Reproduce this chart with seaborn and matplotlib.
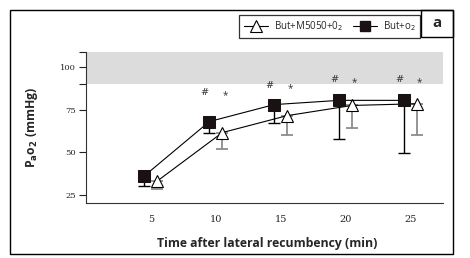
import numpy as np
import pandas as pd
import matplotlib
matplotlib.use('Agg')
import matplotlib.pyplot as plt
from matplotlib.patches import Rectangle
from matplotlib.lines import Line2D
import seaborn as sns

# time points (min) and PaO2 means / SD
times = [5, 10, 15, 20, 25]
but_o2_mean = [36, 68, 78, 80.5, 80.5]
but_o2_sd = [6, 7, 11, 23, 31]
but_m5050_mean = [33, 61.5, 71.5, 77.5, 78.5]
but_m5050_sd = [5, 9.5, 11.5, 13.5, 18.5]
sig_height = [85, 89.5, 93, 93]
sig_times = [10, 15, 20, 25]

sns.set_theme(style='white')
plt.rcParams['font.family'] = ['Open Sans', 'DejaVu Sans']

fig = plt.figure(figsize=(4.7, 2.58), dpi=100)
ax = fig.add_axes([86 / 470, 1 - 203 / 258, 357 / 470, 151 / 258])

df_sq = pd.DataFrame({'pos': np.array(times) - 0.5, 'pao2': but_o2_mean})
df_tri = pd.DataFrame({'pos': np.array(times) + 0.5, 'pao2': but_m5050_mean})

ax.axhspan(90, 109, color='#dcdcdc', lw=0, zorder=0)

# one-sided (downward) error bars
ax.errorbar(df_sq['pos'], df_sq['pao2'], yerr=[but_o2_sd, np.zeros(5)],
            fmt='none', ecolor='black', elinewidth=1, capsize=4.2, capthick=1, zorder=2)
ax.errorbar(df_tri['pos'], df_tri['pao2'], yerr=[but_m5050_sd, np.zeros(5)],
            fmt='none', ecolor='#8c8c8c', elinewidth=1.3, capsize=4.2, capthick=1.3, zorder=2)

sns.lineplot(data=df_tri, x='pos', y='pao2', ax=ax, color='black', lw=0.8,
             marker='^', markersize=9, markerfacecolor='white',
             markeredgecolor='black', markeredgewidth=0.8, zorder=3)
sns.lineplot(data=df_sq, x='pos', y='pao2', ax=ax, color='black', lw=0.8,
             marker='s', markersize=8.5, markerfacecolor='#1a1212',
             markeredgecolor='#1a1212', zorder=4)

for t, h in zip(sig_times, sig_height):
    ax.text(t - 0.9, h, '#', fontsize=7, color='#333333', ha='center', va='center',
            family='DejaVu Serif')
    ax.text(t + 0.7, h - 1.8, '*', fontsize=7, color='#333333', ha='center', va='center')

ax.set_xlim(0, 27.5)
ax.set_ylim(20, 109)
ax.set_xticks(times)
ax.set_xticklabels([str(t) for t in times], fontsize=7, family='DejaVu Serif')
ax.set_yticks([25, 50, 75, 90, 100, 109])
ax.set_yticklabels(['25', '50', '75', '', '100', ''], fontsize=6, family='DejaVu Serif')
ax.tick_params(axis='x', length=0, pad=9, colors='#222222')
ax.tick_params(axis='y', length=5, width=0.8, pad=2, colors='#222222', left=True)
ax.set_xlabel('')
ax.set_ylabel('')
for s in ['top', 'right']:
    ax.spines[s].set_visible(False)
for s in ['left', 'bottom']:
    ax.spines[s].set_color('#333333')
    ax.spines[s].set_linewidth(0.8)

fig.text(267 / 470, 1 - 244 / 258, 'Time after lateral recumbency (min)',
         fontsize=8.8, fontweight='bold', ha='center', va='center')
fig.text(32 / 470, 1 - 127 / 258, r'P$_\mathbf{a}$o$_\mathbf{2}$ (mmHg)',
         fontsize=8.8, fontweight='bold', ha='center', va='center', rotation=90)

# outer frame and panel letter
fig.patches.append(Rectangle((10 / 470, 1 - 254 / 258), 443 / 470, 244 / 258,
                             transform=fig.transFigure, fill=False, ec='black', lw=1))
fig.patches.append(Rectangle((421 / 470, 1 - 37 / 258), 32 / 470, 27 / 258,
                             transform=fig.transFigure, fill=False, ec='black', lw=1))
fig.text(437 / 470, 1 - 23.5 / 258, 'a', fontsize=11, fontweight='bold',
         ha='center', va='center')

handles = [
    Line2D([], [], color='black', lw=0.8, marker='^', markersize=8,
           markerfacecolor='white', markeredgecolor='black', markeredgewidth=0.8),
    Line2D([], [], color='black', lw=0.8, marker='s', markersize=7.5,
           markerfacecolor='#1a1212', markeredgecolor='#1a1212'),
]
leg = fig.legend(handles, [r'But+M5050+0$_2$', r'But+o$_2$'], ncol=2,
                 loc='upper right', bbox_to_anchor=(420 / 470, 1 - 15 / 258),
                 borderaxespad=0, fontsize=7, frameon=True, fancybox=False,
                 edgecolor='black', handlelength=2.5, columnspacing=1.0,
                 handletextpad=0.6, borderpad=0.45)
leg.get_frame().set_linewidth(0.9)

fig.savefig('out.png', dpi=100)
